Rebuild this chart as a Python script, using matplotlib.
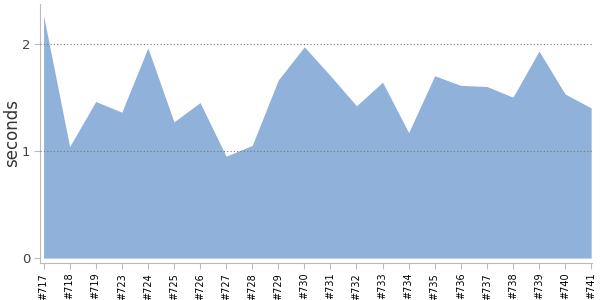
import matplotlib
matplotlib.use("Agg")
import matplotlib.pyplot as plt
import numpy as np

# build ids and durations (seconds)
builds = ['#717', '#718', '#719', '#723', '#724', '#725', '#726', '#727',
          '#728', '#729', '#730', '#731', '#732', '#733', '#734', '#735',
          '#736', '#737', '#738', '#739', '#740', '#741']
seconds = [2.26, 1.04, 1.46, 1.36, 1.96, 1.27, 1.45, 0.95,
           1.05, 1.66, 1.97, 1.70, 1.42, 1.64, 1.17, 1.70,
           1.61, 1.60, 1.50, 1.93, 1.53, 1.40]
y_ticks = [0, 1, 2]

fig = plt.figure(figsize=(6, 3), dpi=100)
ax = fig.add_axes([0.067, 0.123, 0.92, 0.864])

x = np.arange(len(builds))
ax.fill_between(x, 0, seconds, color='#8fb1da', linewidth=0)

ax.set_xlim(-0.13, len(builds) - 1 + 0.04)
ax.set_ylim(-0.047, 2.37)

ax.set_yticks(y_ticks)
ax.set_yticklabels([str(t) for t in y_ticks], fontsize=9.5)
ax.set_xticks(x)
ax.set_xticklabels(builds, rotation=90, fontsize=7)

# dotted grid lines drawn over the fill
for t in y_ticks[1:]:
    ax.axhline(t, color='#777777', linestyle=(0, (1, 2)), linewidth=0.8, zorder=3)

ax.set_ylabel('seconds', fontsize=12, color='#333333', labelpad=1)

for s in ['top', 'right']:
    ax.spines[s].set_visible(False)
for s in ['left', 'bottom']:
    ax.spines[s].set_color('#bbbbbb')
ax.tick_params(axis='both', colors='#bbbbbb', length=4, pad=3)
for lbl in ax.get_yticklabels():
    lbl.set_color('#444444')
for lbl in ax.get_xticklabels():
    lbl.set_color('black')

fig.savefig('out.png', dpi=100)
